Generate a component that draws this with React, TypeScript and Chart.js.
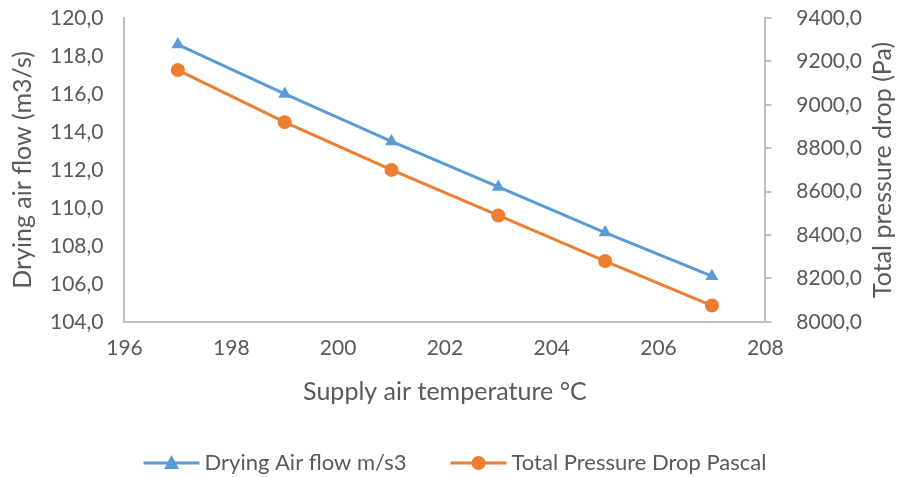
import React, { useEffect, useRef } from "react";
import { Chart, registerables } from "chart.js";

Chart.register(...registerables);

const temperatures = [197, 199, 201, 203, 205, 207];
const airFlow = [118.6, 116.0, 113.5, 111.1, 108.7, 106.4];
const pressureDrop = [9160, 8920, 8700, 8490, 8280, 8075];

const seriesNames = ["Drying Air flow m/s3", "Total Pressure Drop Pascal"];
const axisTitles = {
  x: "Supply air temperature °C",
  y: "Drying air flow (m3/s)",
  y2: "Total pressure drop (Pa)",
};

const BLUE = "#5B9BD5";
const ORANGE = "#ED7D31";
const TEXT = "#595959";
const AXIS = "#BFBFBF";
const FONT = "Lato, 'Open Sans', sans-serif";
const TICK_SIZE = 21;
const TITLE_SIZE = 25;
const LEGEND_SIZE = 22;

function drawMarker(ctx: CanvasRenderingContext2D, style: string, x: number, y: number) {
  ctx.beginPath();
  if (style === "circle") {
    ctx.arc(x, y, 7, 0, Math.PI * 2);
  } else {
    ctx.moveTo(x, y - 8);
    ctx.lineTo(x + 7.5, y + 6);
    ctx.lineTo(x - 7.5, y + 6);
    ctx.closePath();
  }
  ctx.fill();
}

const fmt = (v: number | string) => Number(v).toFixed(1).replace(".", ",");

const extrasPlugin = {
  id: "extras",
  afterDraw(chart: any) {
    const ctx = chart.ctx;
    const s = chart.scales.y2;
    // right axis tick marks (outward)
    ctx.save();
    ctx.strokeStyle = AXIS;
    ctx.lineWidth = 2;
    s.ticks.forEach((t: any) => {
      const py = Math.round(s.getPixelForValue(t.value));
      ctx.beginPath();
      ctx.moveTo(s.left, py);
      ctx.lineTo(s.left + 6, py);
      ctx.stroke();
    });
    ctx.restore();

    // right axis title, reading bottom-to-top
    ctx.save();
    ctx.fillStyle = TEXT;
    ctx.font = `${TITLE_SIZE}px ${FONT}`;
    ctx.textAlign = "center";
    ctx.textBaseline = "middle";
    ctx.translate(s.right - 15, (s.top + s.bottom) / 2);
    ctx.rotate(-Math.PI / 2);
    ctx.fillText(axisTitles.y2, 0, 0);
    ctx.restore();

    // legend
    const iconW = 56;
    const gapText = 5;
    const gapItem = 44;
    ctx.save();
    ctx.font = `${LEGEND_SIZE}px ${FONT}`;
    const items = chart.data.datasets.map((ds: any) => ({
      label: ds.label as string,
      color: ds.borderColor as string,
      style: ds.pointStyle as string,
      w: ctx.measureText(ds.label).width,
    }));
    const total = items.reduce((a: number, it: any) => a + iconW + gapText + it.w, 0) + gapItem * (items.length - 1);
    let x = chart.width / 2 + 5 - total / 2;
    const y = 463;
    items.forEach((it: any) => {
      ctx.strokeStyle = it.color;
      ctx.fillStyle = it.color;
      ctx.lineWidth = 3;
      ctx.beginPath();
      ctx.moveTo(x, y);
      ctx.lineTo(x + iconW, y);
      ctx.stroke();
      drawMarker(ctx, it.style, x + iconW / 2, y);
      x += iconW + gapText;
      ctx.fillStyle = TEXT;
      ctx.textAlign = "left";
      ctx.textBaseline = "middle";
      ctx.fillText(it.label, x, y);
      x += it.w + gapItem;
    });
    ctx.restore();
  },
};

export default function App() {
  const ref = useRef<HTMLCanvasElement>(null);

  useEffect(() => {
    document.body.style.margin = "0";
    const chart = new Chart(ref.current!, {
      type: "line",
      data: {
        datasets: [
          {
            label: seriesNames[0],
            data: temperatures.map((t, i) => ({ x: t, y: airFlow[i] })),
            borderColor: BLUE,
            backgroundColor: BLUE,
            borderWidth: 3,
            pointStyle: "triangle",
            pointRadius: 7.5,
            pointBorderWidth: 0,
            yAxisID: "y",
          },
          {
            label: seriesNames[1],
            data: temperatures.map((t, i) => ({ x: t, y: pressureDrop[i] })),
            borderColor: ORANGE,
            backgroundColor: ORANGE,
            borderWidth: 3,
            pointStyle: "circle",
            pointRadius: 7,
            pointBorderWidth: 0,
            yAxisID: "y2",
          },
        ],
      },
      options: {
        animation: false,
        responsive: false,
        layout: { autoPadding: false, padding: { left: 8, right: 2, top: 18, bottom: 0 } },
        plugins: {
          tooltip: { enabled: false },
          legend: { display: false },
        },
        scales: {
          x: {
            type: "linear",
            min: 196,
            max: 208,
            ticks: { stepSize: 2, color: TEXT, font: { family: FONT, size: TICK_SIZE }, padding: 14 },
            grid: { display: true, drawOnChartArea: false, drawTicks: false, color: AXIS },
            border: { display: true, color: AXIS, width: 2 },
            title: {
              display: true,
              text: axisTitles.x,
              color: TEXT,
              font: { family: FONT, size: TITLE_SIZE },
              padding: { top: 2, bottom: 70 },
            },
          },
          y: {
            position: "left",
            min: 104,
            max: 120,
            ticks: { stepSize: 2, color: TEXT, font: { family: FONT, size: TICK_SIZE }, padding: 0, callback: fmt },
            grid: { display: true, drawOnChartArea: false, drawTicks: true, tickLength: 21, tickColor: "rgba(0,0,0,0)", color: AXIS },
            border: { display: true, color: AXIS, width: 2 },
            title: {
              display: true,
              text: axisTitles.y,
              color: TEXT,
              font: { family: FONT, size: TITLE_SIZE },
              padding: { top: 0, bottom: 12 },
            },
          },
          y2: {
            position: "right",
            min: 8000,
            max: 9400,
            ticks: { stepSize: 200, color: TEXT, font: { family: FONT, size: TICK_SIZE }, padding: 0, callback: fmt },
            grid: { display: true, drawOnChartArea: false, drawTicks: true, tickLength: 31, tickColor: "rgba(0,0,0,0)", color: AXIS },
            border: { display: true, color: AXIS, width: 2 },
            title: {
              display: true,
              text: axisTitles.y2,
              color: "rgba(0,0,0,0)",
              font: { family: FONT, size: TITLE_SIZE },
              padding: { top: 0, bottom: 6 },
            },
          },
        },
      },
      plugins: [extrasPlugin],
    } as any);
    return () => chart.destroy();
  }, []);

  return (
    <div style={{ width: 900, height: 477, position: "relative" }}>
      <canvas ref={ref} width={900} height={477} style={{ width: 900, height: 477 }} />
    </div>
  );
}
